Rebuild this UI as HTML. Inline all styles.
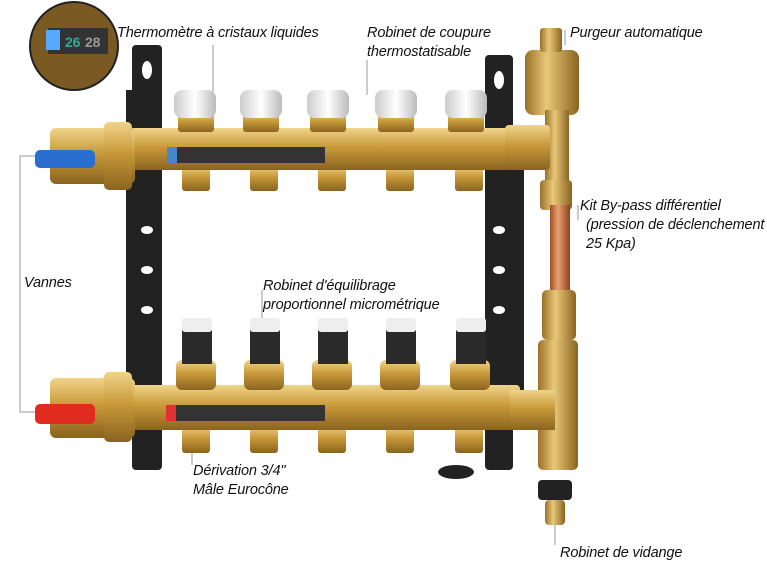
<!DOCTYPE html>
<html><head><meta charset="utf-8"><style>
html,body{margin:0;padding:0;background:#fff;width:767px;height:576px;overflow:hidden}
svg{display:block}
text{font-family:"Liberation Sans",sans-serif;font-style:italic;font-size:14.5px;fill:#111;letter-spacing:-0.15px}
</style></head><body>
<svg width="767" height="576" viewBox="0 0 767 576">
<defs>
<linearGradient id="br" x1="0" y1="0" x2="0" y2="1"><stop offset="0" stop-color="#f0d48a"/><stop offset=".45" stop-color="#c99a3a"/><stop offset="1" stop-color="#8a6420"/></linearGradient>
<linearGradient id="brv" x1="0" y1="0" x2="1" y2="0"><stop offset="0" stop-color="#9a7028"/><stop offset=".4" stop-color="#e8c878"/><stop offset="1" stop-color="#8a6420"/></linearGradient>
<linearGradient id="cu" x1="0" y1="0" x2="1" y2="0"><stop offset="0" stop-color="#a0502a"/><stop offset=".4" stop-color="#e8a070"/><stop offset="1" stop-color="#904020"/></linearGradient>
<linearGradient id="wc" x1="0" y1="0" x2="1" y2="0"><stop offset="0" stop-color="#ccc"/><stop offset=".5" stop-color="#fff"/><stop offset="1" stop-color="#bbb"/></linearGradient>
</defs>
<g stroke="#999" stroke-width="1" fill="none">
<polyline points="35,156 20,156 20,412 35,412"/>
<line x1="213" y1="45" x2="213" y2="165"/>
<line x1="367" y1="60" x2="367" y2="95"/>
<line x1="565" y1="30" x2="565" y2="45"/>
<line x1="578" y1="205" x2="578" y2="220"/>
<line x1="262" y1="290" x2="262" y2="325"/>
<line x1="192" y1="430" x2="192" y2="465"/>
<line x1="555" y1="520" x2="555" y2="545"/>
</g>
<g fill="#222">
<rect x="132" y="45" width="30" height="425" rx="4"/>
<rect x="126" y="90" width="12" height="340"/>
<rect x="485" y="55" width="28" height="415" rx="4"/>
<rect x="510" y="150" width="14" height="250"/>
</g>
<g fill="#fff">
<ellipse cx="147" cy="70" rx="5" ry="9"/><ellipse cx="147" cy="230" rx="6" ry="4"/><ellipse cx="147" cy="270" rx="6" ry="4"/><ellipse cx="147" cy="310" rx="6" ry="4"/>
<ellipse cx="499" cy="80" rx="5" ry="9"/><ellipse cx="499" cy="230" rx="6" ry="4"/><ellipse cx="499" cy="270" rx="6" ry="4"/><ellipse cx="499" cy="310" rx="6" ry="4"/>
</g>
<g fill="url(#br)">
<rect x="182" y="165" width="28" height="26" rx="3"/><rect x="250" y="165" width="28" height="26" rx="3"/><rect x="318" y="165" width="28" height="26" rx="3"/><rect x="386" y="165" width="28" height="26" rx="3"/><rect x="455" y="165" width="28" height="26" rx="3"/>
<rect x="182" y="425" width="28" height="28" rx="3"/><rect x="250" y="425" width="28" height="28" rx="3"/><rect x="318" y="425" width="28" height="28" rx="3"/><rect x="386" y="425" width="28" height="28" rx="3"/><rect x="455" y="425" width="28" height="28" rx="3"/>
</g>
<rect x="130" y="128" width="380" height="42" rx="4" fill="url(#br)"/>
<rect x="175" y="147" width="150" height="16" fill="#333"/><rect x="167" y="147" width="10" height="16" fill="#48c"/>
<g fill="url(#br)">
<rect x="178" y="112" width="36" height="20" rx="3"/><rect x="243" y="112" width="36" height="20" rx="3"/><rect x="310" y="112" width="36" height="20" rx="3"/><rect x="378" y="112" width="36" height="20" rx="3"/><rect x="448" y="112" width="36" height="20" rx="3"/>
</g>
<g fill="url(#wc)">
<rect x="174" y="90" width="42" height="28" rx="8"/><rect x="240" y="90" width="42" height="28" rx="8"/><rect x="307" y="90" width="42" height="28" rx="8"/><rect x="375" y="90" width="42" height="28" rx="8"/><rect x="445" y="90" width="42" height="28" rx="8"/>
</g>
<rect x="130" y="385" width="390" height="45" rx="4" fill="url(#br)"/>
<rect x="175" y="405" width="150" height="16" fill="#333"/><rect x="166" y="405" width="10" height="16" fill="#d33"/>
<g fill="url(#br)">
<rect x="176" y="360" width="40" height="30" rx="6"/><rect x="244" y="360" width="40" height="30" rx="6"/><rect x="312" y="360" width="40" height="30" rx="6"/><rect x="380" y="360" width="40" height="30" rx="6"/><rect x="450" y="360" width="40" height="30" rx="6"/>
</g>
<g fill="#2a2a2a">
<rect x="182" y="330" width="30" height="34"/><rect x="250" y="330" width="30" height="34"/><rect x="318" y="330" width="30" height="34"/><rect x="386" y="330" width="30" height="34"/><rect x="456" y="330" width="30" height="34"/>
</g>
<g fill="#eee">
<rect x="182" y="318" width="30" height="14" rx="3"/><rect x="250" y="318" width="30" height="14" rx="3"/><rect x="318" y="318" width="30" height="14" rx="3"/><rect x="386" y="318" width="30" height="14" rx="3"/><rect x="456" y="318" width="30" height="14" rx="3"/>
</g>
<rect x="50" y="128" width="85" height="56" rx="6" fill="url(#br)"/>
<rect x="104" y="122" width="28" height="68" rx="5" fill="url(#br)"/>
<rect x="35" y="150" width="60" height="18" rx="5" fill="#2a6fd0"/>
<rect x="50" y="378" width="85" height="60" rx="6" fill="url(#br)"/>
<rect x="104" y="372" width="28" height="70" rx="5" fill="url(#br)"/>
<rect x="35" y="404" width="60" height="20" rx="5" fill="#e02b20"/>
<rect x="525" y="50" width="54" height="65" rx="8" fill="url(#brv)"/>
<rect x="540" y="28" width="22" height="24" rx="3" fill="url(#brv)"/>
<rect x="545" y="110" width="24" height="90" fill="url(#brv)"/>
<rect x="505" y="125" width="45" height="45" rx="4" fill="url(#br)"/>
<rect x="540" y="180" width="32" height="30" rx="4" fill="url(#brv)"/>
<rect x="550" y="205" width="20" height="90" fill="url(#cu)"/>
<rect x="542" y="290" width="34" height="50" rx="5" fill="url(#brv)"/>
<rect x="538" y="340" width="40" height="130" rx="5" fill="url(#brv)"/>
<rect x="510" y="390" width="45" height="40" fill="url(#br)"/>
<rect x="538" y="480" width="34" height="20" rx="4" fill="#222"/>
<rect x="545" y="500" width="20" height="25" rx="4" fill="url(#brv)"/>
<ellipse cx="456" cy="472" rx="18" ry="7" fill="#222"/>
<circle cx="74" cy="46" r="44" fill="#7a5a22" stroke="#222" stroke-width="2"/>
<rect x="48" y="28" width="60" height="26" fill="#333"/><rect x="46" y="30" width="14" height="20" fill="#5af"/>
<text x="65" y="47" style="font-style:normal;font-size:14px;fill:#3a9;font-weight:bold">26</text><text x="85" y="47" style="font-style:normal;font-size:14px;fill:#999;font-weight:bold">28</text>
<text x="117" y="37">Thermomètre à cristaux liquides</text>
<text x="367" y="37">Robinet de coupure</text>
<text x="367" y="56">thermostatisable</text>
<text x="570" y="37">Purgeur automatique</text>
<text x="580" y="210">Kit By-pass différentiel</text>
<text x="586" y="229">(pression de déclenchement</text>
<text x="586" y="248">25 Kpa)</text>
<text x="24" y="287">Vannes</text>
<text x="263" y="290">Robinet d'équilibrage</text>
<text x="263" y="309">proportionnel micrométrique</text>
<text x="193" y="475">Dérivation 3/4"</text>
<text x="193" y="494">Mâle Eurocône</text>
<text x="560" y="557">Robinet de vidange</text>
</svg>
</body></html>
